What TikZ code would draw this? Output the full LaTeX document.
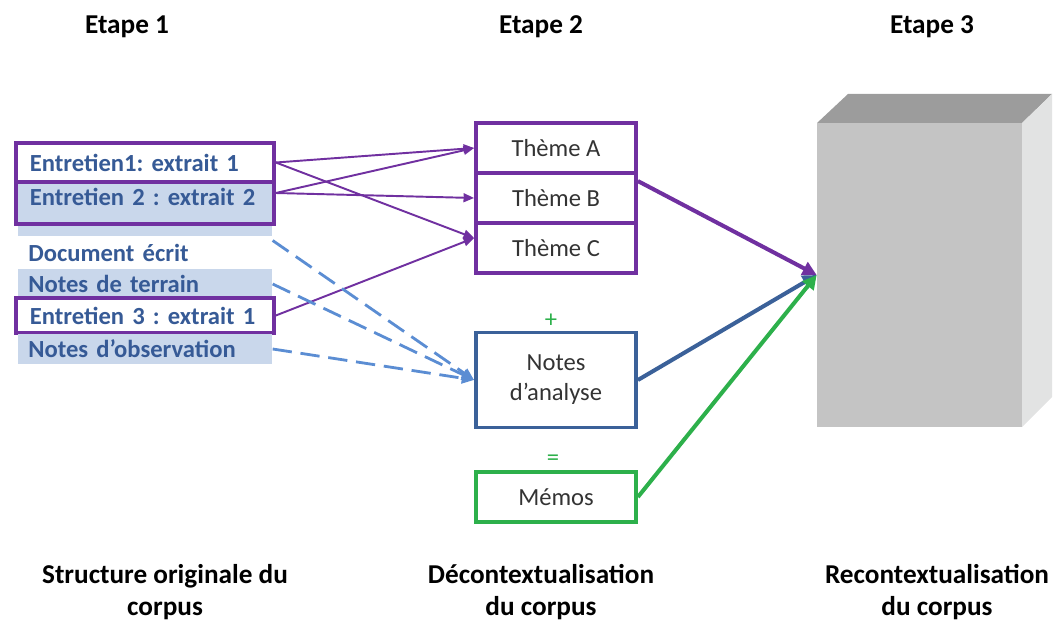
\documentclass[tikz,border=0pt]{standalone}
\usepackage{fontspec}
\setmainfont{Carlito}
\usetikzlibrary{arrows.meta}

\definecolor{violet1}{HTML}{7030A0}
\definecolor{bleu1}{HTML}{3B6199}
\definecolor{bleu2}{HTML}{5B8DD3}
\definecolor{bleuclair}{HTML}{C9D7EB}
\definecolor{bleutexte}{HTML}{365A96}
\definecolor{vert1}{HTML}{2DB04B}
\definecolor{gris1}{HTML}{C4C4C4}
\definecolor{gris2}{HTML}{9C9C9C}
\definecolor{gris3}{HTML}{E2E3E3}

\newcommand{\policeliste}{\fontsize{14}{16}\selectfont\bfseries\frenchspacing}

\tikzset{
  titre/.style={font=\fontsize{15.5}{18}\selectfont\bfseries, align=center},
  ligne/.style={anchor=west, font=\policeliste,
    text=bleutexte, text width=4.6cm, inner xsep=0.28cm, inner ysep=0pt},
  entretien/.style={ligne, draw=violet1, line width=2.2pt},
  theme/.style={draw=violet1, line width=2.2pt, minimum width=3.2cm, minimum height=1cm,
    font=\fontsize{14}{17}\selectfont, text=black!80, align=center},
  fleche/.style={violet1, line width=1.1pt, -{Triangle[length=6pt,width=5pt]}},
  pointille/.style={bleu2, line width=1.6pt, dash pattern=on 11pt off 5pt,
    -{Triangle[length=7pt,width=6pt]}},
  grosse/.style={line width=2.3pt, -{Triangle[length=8pt,width=8pt]}}
}

\begin{document}
\begin{tikzpicture}[x=0.02cm,y=-0.02cm]
        \useasboundingbox (0,0) rectangle (1053,621);

        % titres
        \node[titre] (et1) at (127,27) {Etape 1};
        \node[titre] (et2) at (541,27) {Etape 2};
        \node[titre] (et3) at (932,27) {Etape 3};

        % corpus d'origine
        \fill[bleuclair] (18,182) rectangle (272,236);
        \node[entretien, fill=white, minimum height=0.78cm] (e1) at (14,162.5) {Entretien1: extrait 1};
        \node[entretien, fill=bleuclair, minimum height=0.84cm, text depth=0.24cm] (e2) at (14,203) {Entretien 2 : extrait 2};
        \node[ligne, minimum height=0.6cm] (doc) at (14,253) {Document écrit};
        \node[ligne, fill=bleuclair, minimum height=0.6cm, text width=4.68cm, inner xsep=0.2cm] (terrain) at (18,284) {Notes de terrain};
        \node[entretien, fill=white, minimum height=0.7cm] (e3) at (14,315.5) {Entretien 3 : extrait 1};
        \node[ligne, fill=bleuclair, minimum height=0.62cm, text width=4.68cm, inner xsep=0.2cm] (obs) at (18,349) {Notes d’observation};

        % decontextualisation
        \node[theme] (ta) at (556,148) {Thème A};
        \node[theme] (tb) at (556,198) {Thème B};
        \node[theme] (tc) at (556,248) {Thème C};
        \node[text=vert1, font=\fontsize{14}{16}\selectfont] (plus) at (551,321) {+};
        \node[theme, draw=bleu1, minimum height=1.9cm] (na) at (556,380) {Notes\\d’analyse};
        \node[text=vert1, font=\fontsize{14}{16}\selectfont] (egal) at (553,460) {=};
        \node[theme, draw=vert1] (memo) at (556,497) {Mémos};

        % recontextualisation
        \fill[gris2] (817,123) -- (848,94) -- (1052,94) -- (1022,123) -- cycle;
        \fill[gris3] (1022,123) -- (1052,94) -- (1052,397) -- (1022,427) -- cycle;
        \node[fill=gris1, inner sep=0pt, minimum width=4.1cm, minimum height=6.08cm] (cube) at (919.5,275) {};

        % liens
        \draw[fleche] (e1.east) -- (ta.west);
        \draw[fleche] (e1.east) -- ([yshift=0.2cm]tc.west);
        \draw[fleche] ([yshift=0.2cm]e2.east) -- (ta.west);
        \draw[fleche] ([yshift=0.2cm]e2.east) -- (tb.west);
        \draw[fleche] (e3.east) -- ([yshift=0.2cm]tc.west);
        \draw[pointille] ([yshift=0.25cm]doc.east) -- (na.west);
        \draw[pointille] (terrain.east) -- (na.west);
        \draw[pointille] (obs.east) -- (na.west);
        \draw[grosse, violet1] ([yshift=-0.2cm]tb.north east) -- (cube.west);
        \draw[grosse, bleu1] (na.east) -- (cube.west);
        \draw[grosse, vert1] (memo.east) -- (cube.west);

        % legendes
        \node[titre] (l1) at (165,592) {Structure originale du\\corpus};
        \node[titre] (l2) at (541,592) {Décontextualisation\\du corpus};
        \node[titre] (l3) at (937,592) {Recontextualisation\\du corpus};
\end{tikzpicture}
\end{document}
